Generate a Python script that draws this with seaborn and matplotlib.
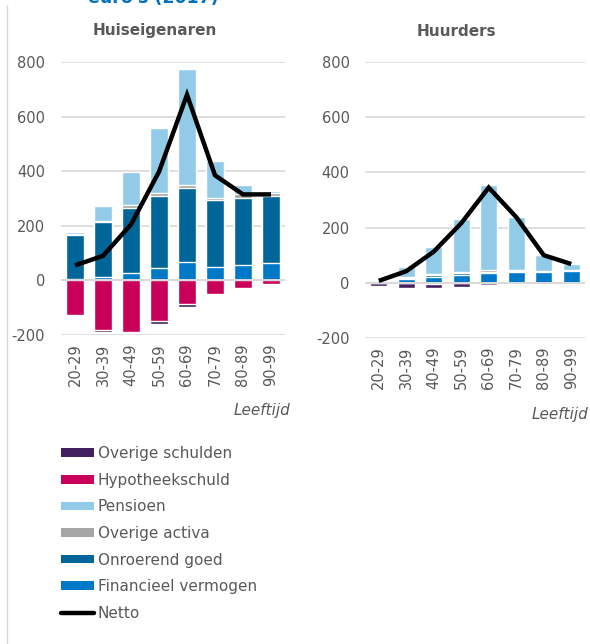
import numpy as np
import matplotlib
matplotlib.use("Agg")
import matplotlib.pyplot as plt
from matplotlib.patches import Patch
from matplotlib.lines import Line2D
import seaborn as sns

# Age groups
ages = ["20-29", "30-39", "40-49", "50-59", "60-69", "70-79", "80-89", "90-99"]

# Huiseigenaren (x 1.000 euro)
fin_e = [6, 12, 27, 46, 67, 48, 58, 63]
onr_e = [161, 201, 237, 263, 272, 247, 245, 246]
act_e = [2, 5, 12, 12, 12, 7, 12, 12]
pen_e = [9, 55, 122, 238, 422, 134, 34, 6]
hyp_e = [-128, -180, -188, -150, -88, -50, -27, -13]
sch_e = [-3, -8, -6, -10, -11, -3, -6, -5]
netto_e = [55, 90, 205, 398, 680, 385, 315, 315]

# Huurders (x 1.000 euro)
fin_h = [7, 15, 21, 30, 36, 40, 39, 42]
onr_h = [3, 3, 6, 4, 3, 2, 1, 1]
act_h = [2, 4, 6, 5, 6, 3, 2, 2]
pen_h = [6, 35, 98, 191, 308, 195, 58, 23]
hyp_h = [-1, -1, -3, -1, 0, 0, 0, 0]
sch_h = [-10, -17, -15, -13, -8, -1, 0, 0]
netto_h = [7, 42, 113, 216, 345, 238, 100, 68]

labels = ["Overige schulden", "Hypotheekschuld", "Pensioen", "Overige activa",
          "Onroerend goed", "Financieel vermogen", "Netto"]
colors = {
    "Overige schulden": "#43215f",
    "Hypotheekschuld": "#c8005a",
    "Pensioen": "#92cbe8",
    "Overige activa": "#a5a5a5",
    "Onroerend goed": "#006699",
    "Financieel vermogen": "#0078c8",
}

sns.set_theme(style="white")
plt.rcParams["font.family"] = ["DejaVu Sans"]

TXT = "#595959"
GRID = "#d9d9d9"

fig = plt.figure(figsize=(5.9, 6.44), dpi=100)
W, H = 590, 644


def axes_px(x0, x1, ytop, ybot):
    return fig.add_axes([x0 / W, 1 - ybot / H, (x1 - x0) / W, (ybot - ytop) / H])


def draw_panel(ax, fin, onr, act, pen, hyp, sch, netto, width, pad):
    fin, onr, act, pen = map(np.asarray, (fin, onr, act, pen))
    hyp, sch = np.asarray(hyp), np.asarray(sch)
    # positive stack, drawn from the full height downwards
    layers_pos = [
        (fin + onr + act + pen, colors["Pensioen"]),
        (fin + onr + act, colors["Overige activa"]),
        (fin + onr, colors["Onroerend goed"]),
        (fin, colors["Financieel vermogen"]),
    ]
    for vals, c in layers_pos:
        sns.barplot(x=ages, y=vals, color=c, saturation=1, width=width,
                    ax=ax, zorder=2, errorbar=None)
    # negative stack
    layers_neg = [
        (hyp + sch, colors["Overige schulden"]),
        (hyp, colors["Hypotheekschuld"]),
    ]
    for vals, c in layers_neg:
        sns.barplot(x=ages, y=vals, color=c, saturation=1, width=width,
                    ax=ax, zorder=2, errorbar=None)
    ax.axhline(0, color=GRID, lw=1.4, zorder=3)
    sns.lineplot(x=np.arange(len(ages)), y=netto, color="black", lw=3.2,
                 ax=ax, zorder=4, solid_capstyle="butt", solid_joinstyle="miter")

    ax.set_xlim(-0.5, len(ages) - 0.5)
    ax.set_ylim(-200, 800)
    ax.set_yticks(range(-200, 801, 200))
    ax.set_yticklabels([str(v) for v in range(-200, 801, 200)])
    ax.set_xticks(range(len(ages)))
    ax.set_xticklabels(ages, rotation=90)
    ax.yaxis.grid(True, color=GRID, lw=1.2, zorder=0)
    ax.set_axisbelow(True)
    for s in ax.spines.values():
        s.set_visible(False)
    ax.tick_params(axis="y", length=0, pad=pad, labelsize=10.5, labelcolor=TXT)
    ax.tick_params(axis="x", length=0, pad=6, labelsize=10.5, labelcolor=TXT)
    ax.set_xlabel("")
    ax.set_ylabel("")


ax1 = axes_px(61, 285, 62, 335)
draw_panel(ax1, fin_e, onr_e, act_e, pen_e, hyp_e, sch_e, netto_e, 0.61, 11.5)

ax2 = axes_px(365, 585, 62, 338)
draw_panel(ax2, fin_h, onr_h, act_h, pen_h, hyp_h, sch_h, netto_h, 0.62, 11)

# panel titles
fig.text(155 / W, 1 - 30 / H, "Huiseigenaren", ha="center", va="center",
         fontsize=11, fontweight="bold", color=TXT)
fig.text(456 / W, 1 - 31 / H, "Huurders", ha="center", va="center",
         fontsize=11, fontweight="bold", color=TXT)

# heading (runs off the top of the canvas)
fig.text(88 / W, 1 - 3 / H, "euro's (2017)", ha="left", va="baseline",
         fontsize=12.5, fontweight="bold", color="#0070c0")

# axis captions
fig.text(262 / W, 1 - 410 / H, "Leeftijd", ha="center", va="center",
         fontsize=11, fontstyle="italic", color=TXT)
fig.text(560 / W, 1 - 414 / H, "Leeftijd", ha="center", va="center",
         fontsize=11, fontstyle="italic", color=TXT)

# frame line on the left
fig.add_artist(Line2D([6.5 / W, 6.5 / W], [0, 1 - 5 / H], transform=fig.transFigure,
                      color=GRID, lw=1))

# legend
handles = [Patch(facecolor=colors[l], edgecolor="none") for l in labels[:-1]]
handles.append(Line2D([], [], color="black", lw=3.2))
leg = fig.legend(handles, labels, loc="upper left",
                 bbox_to_anchor=(55 / W, 1 - 440 / H), frameon=False,
                 fontsize=11, handlelength=2.15, handleheight=0.5,
                 handletextpad=0.25, labelspacing=0.76, borderaxespad=0)
for t in leg.get_texts():
    t.set_color(TXT)

fig.savefig("out.png", dpi=100)
